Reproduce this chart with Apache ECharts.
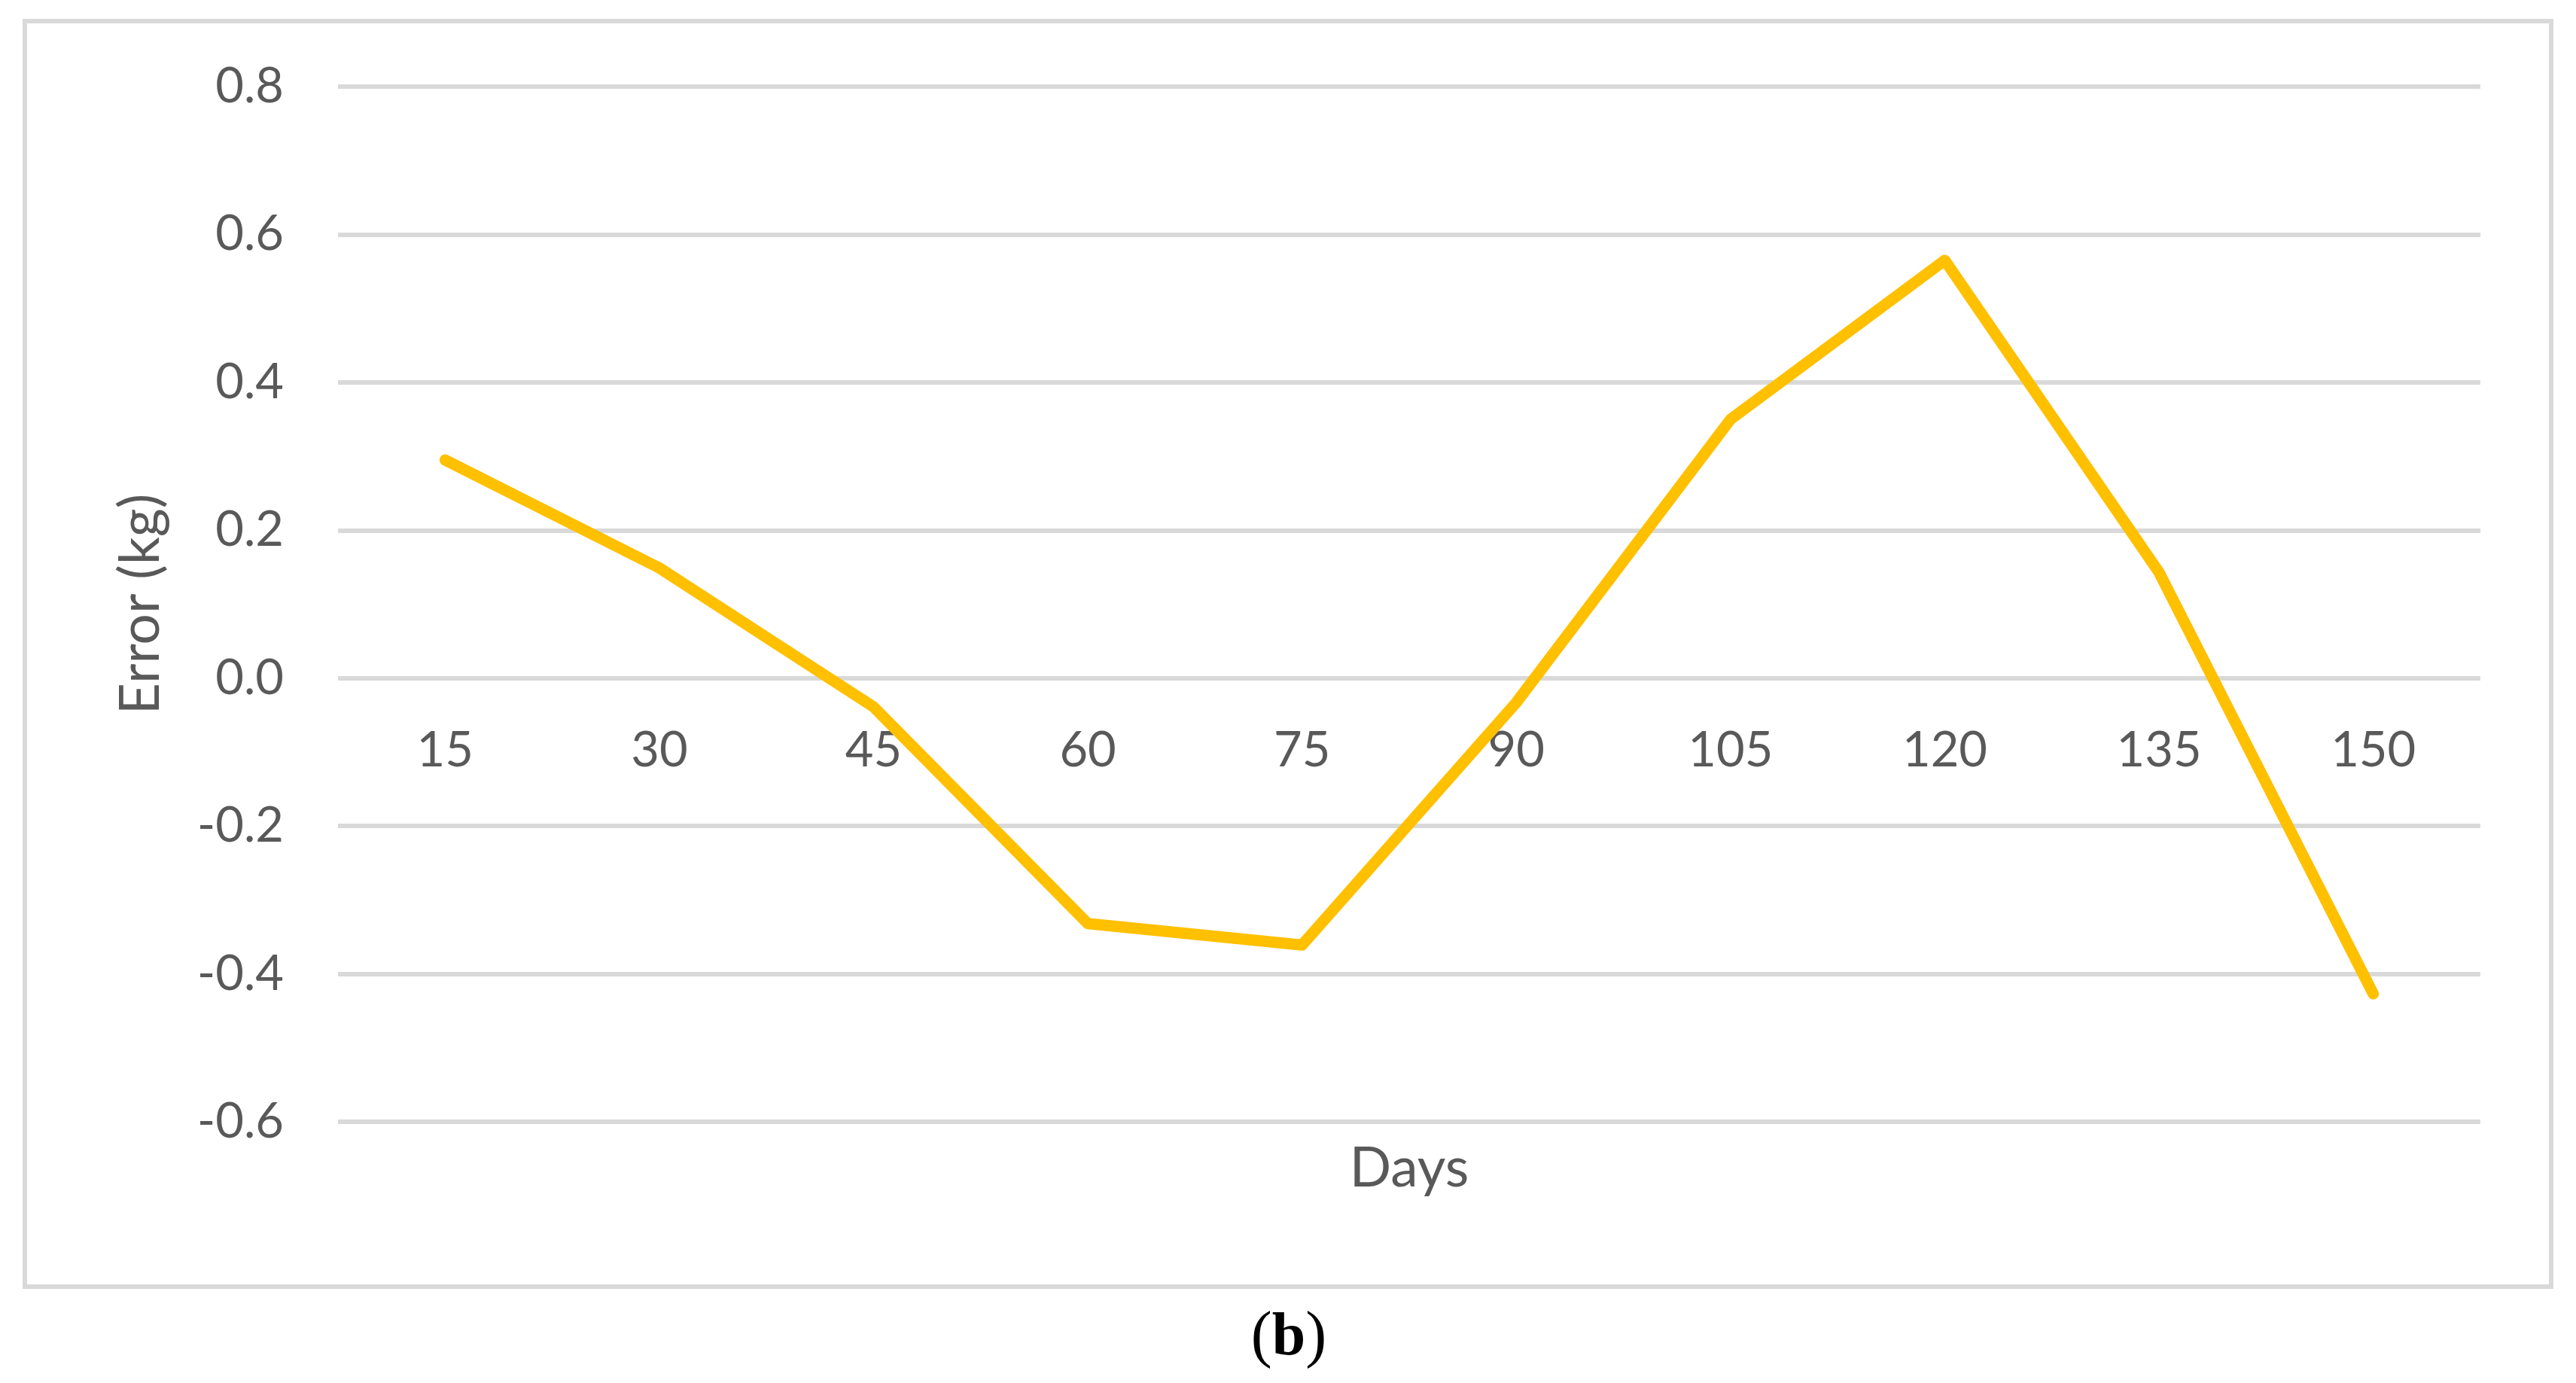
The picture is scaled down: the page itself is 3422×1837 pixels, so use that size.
<!DOCTYPE html>
<html>
<head>
<meta charset="utf-8">
<script src="https://cdn.jsdelivr.net/npm/echarts@6/dist/echarts.min.js"></script>
<style>
html,body{margin:0;padding:0;background:#fff;}
#chart{width:3422px;height:1837px;}
</style>
</head>
<body>
<div id="chart"></div>
<script>
var days = ['15', '30', '45', '60', '75', '90', '105', '120', '135', '150'];
var errors = [0.295, 0.149, -0.039, -0.332, -0.361, -0.033, 0.35, 0.565, 0.143, -0.427];
var yMin = -0.6, yMax = 0.8, yStep = 0.2;
var xTitle = 'Days';
var yTitle = 'Error (kg)';

var FONT = 'Lato, "Liberation Sans", sans-serif';
var GRID_TOP = 115, GRID_H = 1375;
// x axis sits at value 0: distance from grid bottom to zero line
var zeroOffset = GRID_H * (0 - yMin) / (yMax - yMin);

var chart = echarts.init(document.getElementById('chart'), null, {renderer: 'canvas'});
chart.setOption({
  backgroundColor: '#ffffff',
  animation: false,
  grid: {left: 449, right: 127, top: GRID_TOP, height: GRID_H, containLabel: false, outerBoundsMode: 'none'},
  xAxis: {
    type: 'category',
    data: days,
    boundaryGap: true,
    position: 'bottom',
    offset: -zeroOffset,
    axisLine: {show: false, onZero: false},
    axisTick: {show: false},
    axisLabel: {color: '#595959', fontSize: 65, fontFamily: FONT, margin: 64},
    name: xTitle,
    nameLocation: 'middle',
    nameGap: 652,
    nameTextStyle: {color: '#595959', fontSize: 73, fontFamily: FONT, verticalAlign: 'middle'}
  },
  yAxis: {
    type: 'value',
    min: yMin, max: yMax, interval: yStep,
    axisLine: {show: false},
    axisTick: {show: false},
    splitLine: {show: true, lineStyle: {color: '#d9d9d9', width: 6}},
    axisLabel: {color: '#595959', fontSize: 65, fontFamily: FONT, margin: 72,
      formatter: function (v) { return (Math.round(v * 10) / 10).toFixed(1); }},
    name: yTitle,
    nameLocation: 'middle',
    nameGap: 262,
    nameRotate: 90,
    nameTextStyle: {color: '#595959', fontSize: 73, fontFamily: FONT, verticalAlign: 'middle'}
  },
  series: [{
    type: 'line',
    data: errors,
    showSymbol: false,
    symbol: 'none',
    lineStyle: {color: '#FFC000', width: 15, cap: 'round', join: 'round'},
    z: 5
  }],
  graphic: [
    {type: 'rect', left: 30, top: 25, z: -1, silent: true,
     shape: {x: 0, y: 0, width: 3356, height: 1681},
     style: {fill: 'none', stroke: '#d9d9d9', lineWidth: 6}},
    {type: 'text', x: 1712, y: 1778, silent: true,
     style: {text: '{n|(}{b|b}{n|)}', align: 'center', verticalAlign: 'middle',
       rich: {
         n: {fontFamily: '"Liberation Serif", "DejaVu Serif", serif', fontSize: 84, fill: '#000'},
         b: {fontFamily: '"Liberation Serif", "DejaVu Serif", serif', fontSize: 80, fontWeight: 'bold', fill: '#000'}
       }}}
  ]
});
</script>
</body>
</html>
